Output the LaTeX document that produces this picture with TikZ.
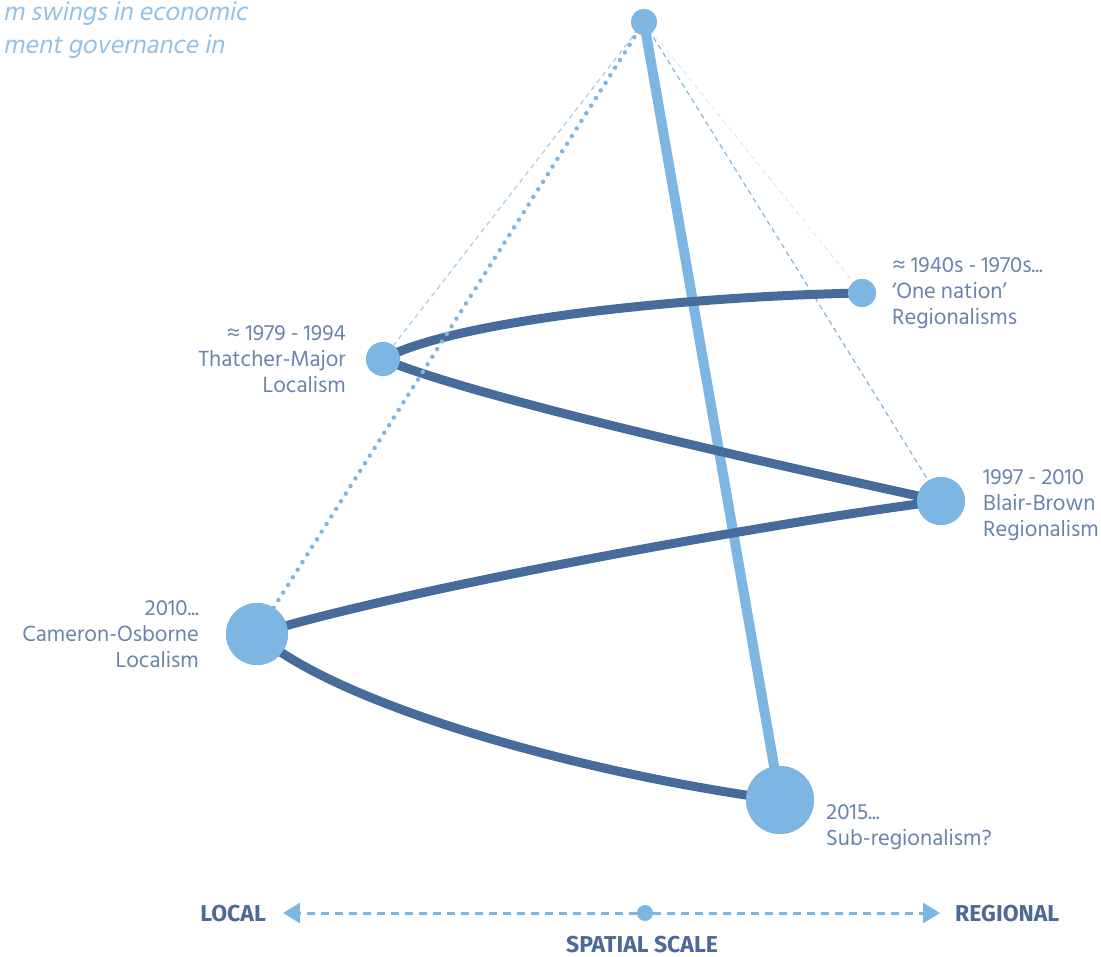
\documentclass[tikz,border=0pt]{standalone}
\usepackage{fontspec}
\setmainfont{Hind Siliguri}
\newfontfamily\slantfont[FakeSlant=0.2]{Hind Siliguri}
\newfontfamily\axisfont{Fira Sans}
\usetikzlibrary{arrows.meta}
\definecolor{lightblue}{HTML}{7EB6E3}
\definecolor{darkblue}{HTML}{476B9B}
\definecolor{labelblue}{HTML}{6B84AB}
\definecolor{axisblue}{HTML}{4D6A97}
\tikzset{
	dot/.style={circle, fill=lightblue, inner sep=0pt, minimum size=#1},
	swing/.style={draw=darkblue, line width=9pt, line cap=round},
	guide/.style={draw=lightblue, line width=1.2pt, dash pattern=on 5pt off 4pt},
	lbl/.style={font=\fontsize{22.5}{26}\selectfont, text=labelblue, inner sep=0pt},
	axislbl/.style={inner sep=0pt, text=axisblue, font=\axisfont\bfseries\fontsize{23}{26}\selectfont}
}
\begin{document}
\begin{tikzpicture}[x=1pt, y=-1pt, line join=round, >=stealth]
	\useasboundingbox (0,0) rectangle (1101,957);
	
	% Title text, top left
	\node[anchor=west, inner sep=0pt, text=lightblue!85, font=\slantfont\fontsize{26}{33}\selectfont, align=left] (title) at (3,30) {m swings in economic\\ment governance in};
	
	% Circles of the spiral
	\node[dot=26pt] (apex) at (644,22) {};
	\node[dot=28pt] (n40s) at (862,293) {};
	\node[dot=34pt] (n79) at (383,359) {};
	\node[dot=48pt] (n97) at (941,501) {};
	\node[dot=62pt] (n10) at (257,634) {};
	\node[dot=68pt] (n15) at (780,800) {};
	
	% Guide lines from the apex
	\draw[guide, draw=lightblue!35, line width=0.8pt] (apex.center) -- (n40s.center);
	\draw[guide, draw=lightblue!70] (apex.center) -- (n79.center);
	\draw[guide] (apex.center) -- (n97.center);
	
	% Thick axis of the cone
	\draw[lightblue, line width=10pt] (apex.center) -- (n15.center);
	
	% The swings
	\draw[swing] (n40s.center) .. controls (700,296) and (460,318) .. (n79.center)
		.. controls (480,400) and (800,470) .. (n97.center)
		.. controls (790,520) and (420,585) .. (n10.center)
		.. controls (330,700) and (560,770) .. (n15.center);
	\draw[lightblue, line width=4.5pt, line cap=round, dash pattern=on 0pt off 9pt] (apex.center) -- (n10.center);
	
	% Circles again on top
	\foreach \n/\s in {apex/26pt, n40s/28pt, n79/34pt, n97/48pt, n10/62pt, n15/68pt}
		\fill[lightblue] (\n.center) circle ({\s/2});
	
	% Labels
	\node[lbl, anchor=west, align=left] (l40s) at (892,293) {≈ 1940s - 1970s...\\`One nation'\\Regionalisms};
	\node[lbl, anchor=east, align=right] (l79) at (346,359) {≈ 1979 - 1994\\Thatcher-Major\\Localism};
	\node[lbl, anchor=west, align=left] (l97) at (983,505) {1997 - 2010\\Blair-Brown\\Regionalism};
	\node[lbl, anchor=east, align=right] (l10) at (199,634) {2010...\\Cameron-Osborne\\Localism};
	\node[lbl, anchor=west, align=left] (l15) at (826,827) {2015...\\Sub-regionalism?};
	
	% Spatial scale axis
	\node[dot=16pt] (mid) at (645,913) {};
	\coordinate (left) at (283,913);
	\coordinate (right) at (940,913);
	\draw[lightblue, line width=3pt, dash pattern=on 8pt off 6pt, -{Triangle[length=17pt, width=20pt]}] (mid) -- (left);
	\draw[lightblue, line width=3pt, dash pattern=on 8pt off 6pt, -{Triangle[length=17pt, width=20pt]}] (mid) -- (right);
	\node[axislbl, anchor=east] (local) at (266,914) {LOCAL};
	\node[axislbl, anchor=west] (regional) at (955,914) {REGIONAL};
	\node[axislbl] (scale) at (642,945) {SPATIAL SCALE};
\end{tikzpicture}
\end{document}
